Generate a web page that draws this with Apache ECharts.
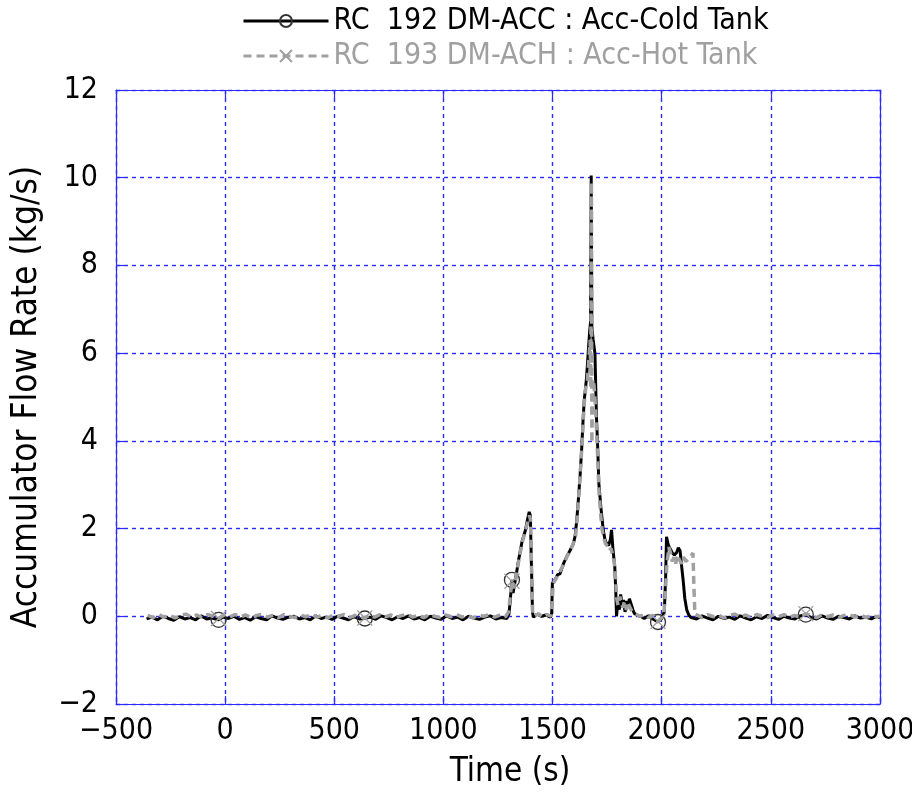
<!DOCTYPE html>
<html>
<head>
<meta charset="utf-8">
<script src="https://cdn.jsdelivr.net/npm/echarts@6/dist/echarts.min.js"></script>
<style>html,body{margin:0;padding:0;background:#fff}#c{width:912px;height:796px}</style>
</head>
<body>
<div id="c"></div>
<script>
// ---- data ----
const seriesNames = ['RC  192 DM-ACC : Acc-Cold Tank', 'RC  193 DM-ACH : Acc-Hot Tank'];
const xTicks = [-500, 0, 500, 1000, 1500, 2000, 2500, 3000];
const yTicks = [-2, 0, 2, 4, 6, 8, 10, 12];
const markerTimes = [-30, 640, 1314, 1983, 2660];

// Cold tank (black) : [time (s), flow (kg/s)]
const coldFlow = [
 [-360,-0.06],[-335,-0.02],[-310,-0.08],[-285,0.00],[-260,-0.05],[-235,-0.09],[-210,-0.01],[-185,-0.06],
 [-160,-0.03],[-135,-0.08],[-110,0.01],[-85,-0.06],[-60,-0.04],[-30,-0.08],[-10,-0.02],[15,-0.05],
 [40,0.00],[65,-0.07],[90,-0.03],[115,-0.09],[140,-0.01],[165,-0.05],[190,-0.08],[215,0.01],
 [240,-0.04],[265,-0.07],[290,-0.02],[315,0.00],[340,-0.06],[365,-0.03],[390,-0.08],[415,0.01],
 [440,-0.05],[465,-0.02],[490,-0.07],[515,0.00],[540,-0.04],[565,-0.08],[590,-0.01],[615,-0.06],
 [640,-0.05],[665,-0.02],[690,-0.07],[715,0.01],[740,-0.03],[765,-0.08],[790,-0.01],[815,-0.05],
 [840,0.01],[865,-0.06],[890,-0.03],[915,-0.08],[940,0.00],[965,-0.04],[990,-0.07],[1015,0.01],
 [1040,-0.05],[1065,-0.02],[1090,-0.08],[1115,0.00],[1140,-0.04],[1165,-0.07],[1190,-0.02],[1215,0.01],
 [1240,-0.06],[1265,-0.03],[1290,-0.05],
 [1300,0.05],[1305,0.3],[1310,0.6],[1314,0.83],[1319,0.53],[1326,0.55],[1332,0.9],[1345,1.3],
 [1360,1.7],[1375,1.95],[1385,2.2],[1393,2.38],[1398,2.3],[1403,1.2],[1408,0.1],[1412,-0.02],
 [1430,0.05],[1450,0.0],[1470,0.03],[1490,-0.02],[1496,0.07],[1499,0.75],[1510,0.82],[1523,0.95],
 [1534,0.97],[1550,1.2],[1565,1.36],[1580,1.5],[1595,1.65],[1603,1.82],[1611,2.2],[1618,2.65],
 [1626,3.2],[1633,3.79],[1640,4.5],[1645,4.93],[1651,5.2],[1656,5.46],[1664,6.07],[1670,6.5],
 [1674,6.7],[1677,10.05],[1680,6.6],[1686,6.3],[1694,6.0],[1701,4.55],[1706,3.95],[1712,3.03],
 [1721,2.5],[1732,1.97],[1740,1.75],[1747,1.66],[1757,1.62],[1765,1.75],[1770,1.97],[1777,1.51],
 [1785,1.13],[1790,0.5],[1793,0.0],[1800,0.4],[1806,0.15],[1812,0.5],[1818,0.25],[1825,0.37],
 [1832,0.1],[1840,0.35],[1845,0.23],[1852,0.4],[1860,0.37],[1868,0.15],[1874,0.07],[1888,0.02],
 [1902,0.0],[1920,-0.05],[1940,0.01],[1960,-0.06],[1983,-0.13],[2000,-0.05],[2012,0.1],[2018,0.9],
 [2022,1.81],[2030,1.63],[2038,1.6],[2048,1.45],[2058,1.4],[2068,1.45],[2076,1.56],[2084,1.5],
 [2090,1.2],[2098,0.83],[2106,0.4],[2115,0.14],[2125,0.02],[2135,-0.03],
 [2160,-0.06],[2185,0.01],[2210,-0.04],[2235,-0.08],[2260,0.00],[2285,-0.05],[2310,-0.02],[2335,-0.07],
 [2360,0.01],[2385,-0.04],[2410,-0.08],[2435,-0.01],[2460,-0.05],[2485,0.02],[2510,-0.03],[2535,-0.07],
 [2560,0.00],[2585,-0.04],[2610,-0.06],[2635,0.01],[2660,0.04],[2685,-0.03],[2710,-0.06],[2735,0.01],
 [2760,-0.04],[2785,-0.07],[2810,0.00],[2835,-0.03],[2860,-0.06],[2885,0.01],[2910,-0.04],[2935,-0.02],
 [2960,-0.06],[2985,0.00],[3000,-0.03]
];

// Hot tank (gray dashed) : [time (s), flow (kg/s)]
const hotFlow = [
 [-355,0.02],[-330,-0.03],[-305,0.04],[-280,-0.02],[-255,0.03],[-230,-0.04],[-205,0.02],[-180,0.05],
 [-155,-0.02],[-130,0.03],[-105,-0.03],[-80,0.04],[-55,0.00],[-30,-0.05],[-5,0.03],[20,-0.02],
 [45,0.04],[70,-0.01],[95,0.03],[120,-0.04],[145,0.02],[170,0.05],[195,-0.02],[220,0.03],
 [245,-0.03],[270,0.04],[295,0.00],[320,-0.03],[345,0.03],[370,-0.01],[395,0.05],[420,-0.02],
 [445,0.02],[470,-0.04],[495,0.03],[520,0.00],[545,0.04],[570,-0.03],[595,0.02],[620,-0.01],
 [640,-0.04],[660,0.03],[685,-0.02],[710,0.04],[735,-0.01],[760,0.03],[785,-0.03],[810,0.02],
 [835,0.05],[860,-0.02],[885,0.03],[910,-0.03],[935,0.04],[960,0.00],[985,-0.03],[1010,0.03],
 [1035,-0.01],[1060,0.04],[1085,-0.02],[1110,0.02],[1135,-0.04],[1160,0.03],[1185,0.00],[1210,0.04],
 [1235,-0.02],[1260,0.03],[1285,-0.01],
 [1298,0.1],[1306,0.45],[1314,0.8],[1320,0.65],[1328,0.7],[1336,1.0],[1348,1.35],[1362,1.7],
 [1376,1.95],[1386,2.15],[1394,2.3],[1399,2.2],[1404,1.0],[1409,0.05],[1415,0.0],[1435,0.06],
 [1455,-0.02],[1475,0.04],[1492,0.0],[1498,0.3],[1503,0.75],[1515,0.85],[1528,0.98],[1542,1.1],
 [1556,1.25],[1568,1.38],[1582,1.5],[1596,1.68],[1606,1.85],[1614,2.3],[1622,2.9],[1630,3.5],
 [1637,4.1],[1644,4.8],[1652,5.2],[1660,5.4],[1667,5.9],[1672,6.3],[1675,5.2],[1678,9.9],
 [1680,3.95],[1684,5.4],[1689,5.3],[1694,5.0],[1700,4.4],[1706,3.7],[1712,2.9],[1719,2.4],
 [1726,2.0],[1734,1.8],[1743,1.65],[1752,1.6],[1760,1.5],[1768,1.55],[1775,1.4],[1782,1.25],
 [1788,0.9],[1794,0.4],[1800,0.25],[1808,0.45],[1815,0.3],[1822,0.2],[1830,0.35],[1838,0.15],
 [1846,0.3],[1855,0.2],[1865,0.1],[1880,0.05],[1900,0.0],[1920,0.04],[1940,-0.03],[1960,0.02],
 [1983,-0.12],[2000,-0.03],[2010,0.05],[2016,0.5],[2024,1.2],[2033,1.58],[2040,1.45],[2048,1.25],
 [2056,1.35],[2064,1.2],[2072,1.4],[2080,1.3],[2090,1.2],[2100,1.35],[2110,1.25],[2120,1.3],
 [2130,1.35],[2143,1.44],[2148,0.6],[2152,0.05],
 [2160,0.02],[2185,-0.03],[2210,0.04],[2235,-0.01],[2260,0.03],[2285,-0.04],[2310,0.02],[2335,0.05],
 [2360,-0.02],[2385,0.03],[2410,-0.03],[2435,0.04],[2460,0.00],[2485,-0.03],[2510,0.03],[2535,-0.01],
 [2560,0.04],[2585,-0.02],[2610,0.02],[2635,-0.03],[2660,0.06],[2685,0.01],[2710,-0.03],[2735,0.04],
 [2760,-0.01],[2785,0.03],[2810,-0.03],[2835,0.02],[2860,0.04],[2885,-0.02],[2910,0.03],[2935,-0.03],
 [2960,0.02],[2985,-0.01],[3000,0.01]
];

// ---- chart ----
const FONT = "'DejaVu Sans Condensed', 'Liberation Sans Narrow', 'Liberation Sans', sans-serif";
const BLUE = '#2a2aff';
const GRAY = '#a0a0a0';

function withMarkers(pairs) {
  return pairs.map(p => markerTimes.includes(p[0]) ? { value: p } : { value: p, symbol: 'none' });
}
function fmt(v) { return (v < 0 ? '\u2212' : '') + Math.abs(v); }
function mkSplit() { return { show: true, lineStyle: { color: BLUE, width: 1.4, type: [4, 4] } }; }
function mkTick() { return { show: true, inside: true, length: 8, lineStyle: { color: BLUE, width: 1.2 } }; }
function mkLine() { return { show: true, onZero: false, lineStyle: { color: BLUE, width: 1.2 } }; }

const chart = echarts.init(document.getElementById('c'), null, { renderer: 'canvas' });

chart.setOption({
  animation: false,
  backgroundColor: '#fff',
  textStyle: { fontFamily: FONT },
  grid: { left: 116, right: 32, top: 90, bottom: 92, outerBoundsMode: 'none', containLabel: false },
  legend: {
    orient: 'vertical', left: 237, top: 1,
    itemWidth: 85, itemHeight: 15, itemGap: 5,
    textStyle: { fontSize: 30, fontFamily: FONT },
    data: [
      { name: seriesNames[0], textStyle: { color: '#000' }, lineStyle: { width: 3 } },
      { name: seriesNames[1], textStyle: { color: GRAY }, lineStyle: { width: 3 } }
    ],
    selectedMode: false
  },
  xAxis: [{
    type: 'value', min: xTicks[0], max: xTicks[xTicks.length - 1], interval: 500,
    name: 'Time (s)', nameLocation: 'middle', nameGap: 52,
    nameTextStyle: { fontSize: 33, color: '#000', fontFamily: FONT, padding: [0, 0, 0, 24] },
    axisLine: mkLine(), axisTick: mkTick(),
    axisLabel: { fontSize: 30, color: '#000', margin: 12, fontFamily: FONT, formatter: fmt },
    splitLine: mkSplit()
  }, {
    type: 'value', position: 'top', min: xTicks[0], max: xTicks[xTicks.length - 1], interval: 500,
    axisLine: mkLine(), axisTick: mkTick(), axisLabel: { show: false }, splitLine: { show: false }
  }],
  yAxis: [{
    type: 'value', min: yTicks[0], max: yTicks[yTicks.length - 1], interval: 2,
    name: 'Accumulator Flow Rate (kg/s)', nameLocation: 'middle', nameGap: 72, nameRotate: 90,
    nameTextStyle: { fontSize: 35, color: '#000', fontFamily: FONT },
    axisLine: mkLine(), axisTick: mkTick(),
    axisLabel: { fontSize: 30, color: '#000', margin: 18, fontFamily: FONT, formatter: fmt },
    splitLine: mkSplit()
  }, {
    type: 'value', position: 'right', min: yTicks[0], max: yTicks[yTicks.length - 1], interval: 2,
    axisLine: mkLine(), axisTick: mkTick(), axisLabel: { show: false }, splitLine: { show: false }
  }],
  series: [{
    name: seriesNames[0], type: 'line', xAxisIndex: 0, yAxisIndex: 0,
    data: withMarkers(coldFlow),
    symbol: 'circle', symbolSize: 15, showSymbol: true, showAllSymbol: true,
    lineStyle: { color: '#000', width: 3 },
    itemStyle: { color: 'rgba(0,0,0,0)', borderColor: '#333', borderWidth: 1.3 },
    emphasis: { disabled: true }, z: 2
  }, {
    name: seriesNames[1], type: 'line', xAxisIndex: 0, yAxisIndex: 0,
    data: withMarkers(hotFlow),
    symbol: 'path://M0,0L10,10M10,0L0,10', symbolSize: 15, showSymbol: true, showAllSymbol: true,
    lineStyle: { color: GRAY, width: 3.5, type: [8, 5] },
    itemStyle: { color: 'rgba(0,0,0,0)', borderColor: GRAY, borderWidth: 1.3 },
    emphasis: { disabled: true }, z: 3
  }]
});
</script>
</body>
</html>
